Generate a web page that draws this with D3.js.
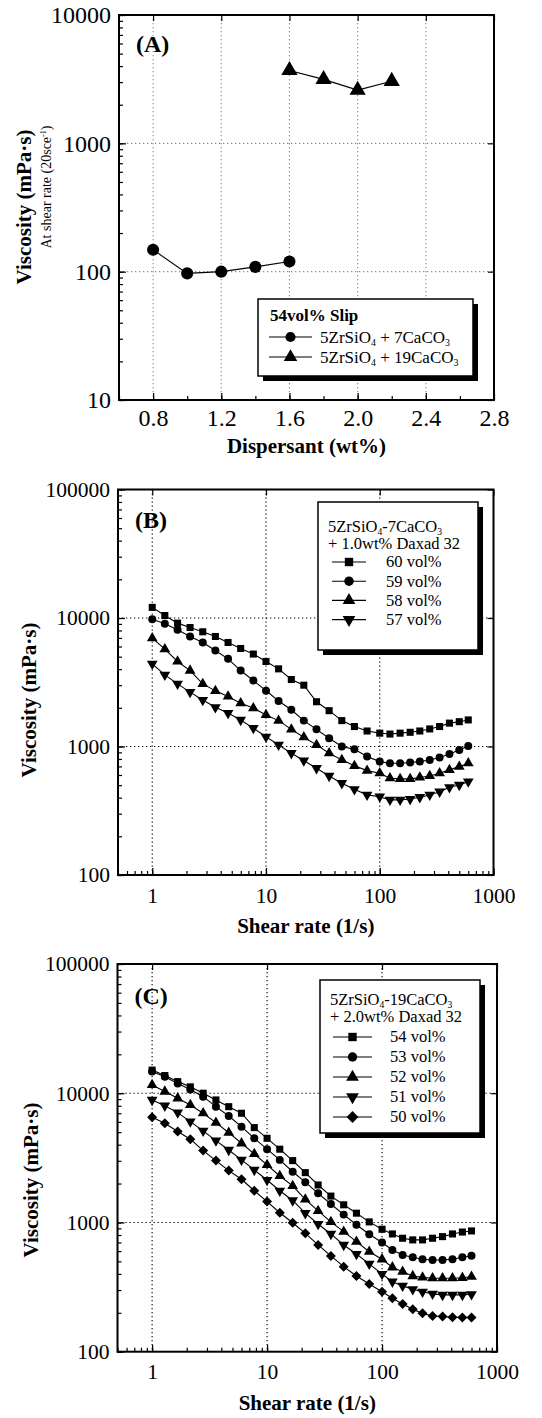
<!DOCTYPE html>
<html>
<head>
<meta charset="utf-8">
<script src="https://cdn.jsdelivr.net/npm/d3@7"></script>
<style>
  body { margin: 0; background: #fff; }
  svg { display: block; }
  text { font-family: "Liberation Serif", "Times New Roman", serif; fill: #000; }
</style>
</head>
<body>
<svg id="fig" width="542" height="1418"></svg>
<script>
// ---------------- data: panel A (viscosity at 20 1/s vs dispersant) ----------------
var dispersant7 = [0.8, 1.0, 1.2, 1.4, 1.6];
var viscosity7 = [148, 97, 100, 109, 120];
var dispersant19 = [1.6, 1.8, 2.0, 2.2];
var viscosity19 = [3700, 3150, 2600, 3050];
var ticksA_x = [0.8, 1.2, 1.6, 2.0, 2.4, 2.8];
var ticksA_y = [10, 100, 1000, 10000];

// ---------------- data: panels B and C (flow curves) ----------------
var shearRate = [1, 1.29, 1.67, 2.15, 2.78, 3.59, 4.64, 5.99, 7.74, 10,
                 12.9, 16.7, 21.5, 27.8, 35.9, 46.4, 59.9, 77.4, 100,
                 123, 151, 185, 225, 275, 336, 410, 500, 600];

// B: 5ZrSiO4-7CaCO3 + 1.0wt% Daxad 32
var visc60 = [12100, 10450, 9120, 8430, 7810, 7180, 6450, 5790, 5240, 4590,
              4020, 3320, 3000, 2230, 1900, 1590, 1430, 1320, 1270,
              1250, 1270, 1290, 1320, 1370, 1430, 1520, 1560, 1610];
var visc59 = [9790, 9010, 8090, 7180, 6450, 5580, 4810, 3900, 3260, 2720,
              2260, 1930, 1590, 1360, 1160, 1000, 950, 835, 763,
              741, 741, 750, 763, 785, 822, 875, 940, 1010];
var visc58 = [6970, 5720, 4590, 3900, 3070, 2710, 2450, 2170, 1990, 1760,
              1590, 1360, 1180, 1030, 887, 787, 707, 649, 620,
              566, 560, 560, 574, 590, 620, 658, 697, 741];
var visc57 = [4400, 3610, 3070, 2650, 2300, 2020, 1820, 1610, 1390, 1190,
              1030, 887, 777, 678, 590, 518, 465, 420, 407,
              384, 384, 390, 403, 420, 445, 482, 502, 533];

// C: 5ZrSiO4-19CaCO3 + 2.0wt% Daxad 32
var visc54 = [15100, 13700, 12300, 11200, 10000, 8870, 7870, 7000, 5420, 4480,
              3690, 3010, 2430, 1950, 1600, 1370, 1180, 1010, 886,
              815, 755, 733, 733, 755, 777, 815, 843, 860];
var visc53 = [14700, 13400, 11900, 10700, 9410, 7870, 6670, 5510, 4480, 3690,
              3050, 2470, 2050, 1680, 1390, 1150, 960, 810, 700,
              612, 560, 538, 519, 513, 513, 519, 538, 553];
var visc52 = [11600, 10300, 9140, 8110, 7000, 5920, 4950, 4100, 3390, 2790,
              2290, 1920, 1510, 1230, 1010, 849, 710, 594, 519,
              450, 416, 385, 376, 370, 370, 370, 373, 380];
var visc51 = [8870, 8010, 7080, 6030, 5110, 4300, 3640, 3050, 2550, 2130,
              1760, 1480, 1180, 973, 815, 670, 570, 478, 399,
              348, 323, 304, 291, 280, 275, 275, 275, 278];
var visc50 = [6510, 5860, 5050, 4410, 3600, 3010, 2520, 2160, 1760, 1450,
              1190, 995, 824, 670, 551, 455, 385, 334, 291,
              259, 234, 213, 198, 189, 187, 185, 184, 184];

var ticksShear = [1, 10, 100, 1000];
var ticksViscBC = [100, 1000, 10000, 100000];

var svg = d3.select("#fig");

// marker paths (inverted triangle / diamond are rotated symbols)
function marker(shape, size) {
  var t = { square: d3.symbolSquare, circle: d3.symbolCircle, triangle: d3.symbolTriangle,
            down: d3.symbolTriangle, diamond: d3.symbolSquare }[shape];
  return d3.symbol(t, size)();
}
function markerRot(shape) {
  if (shape == "down") return " rotate(180)";
  if (shape == "diamond") return " rotate(45)";
  return "";
}

// text with subscripts / superscripts: parts = [[str, null|"sub"|"sup"], ...]
function richText(t, parts, fs) {
  var cur = 0;
  parts.forEach(function(p) {
    var off = p[1] == "sub" ? fs * 0.2 : (p[1] == "sup" ? -fs * 0.38 : 0);
    var ts = t.append("tspan").text(p[0]).attr("dy", off - cur);
    if (p[1]) ts.attr("font-size", fs * 0.58);
    cur = off;
  });
  return t;
}

function drawPanel(p) {
  var g = svg.append("g");
  var x = p.x, y = p.y;
  var left = x.range()[0], right = x.range()[1];
  var bottom = y.range()[0], top = y.range()[1];

  // dotted grid
  g.append("g").selectAll("line").data(p.gridX).enter().append("line")
      .attr("x1", x).attr("x2", x).attr("y1", top).attr("y2", bottom)
      .attr("stroke", p.gridColor).attr("stroke-width", 1.1).attr("stroke-dasharray", "1.3,2.7");
  g.append("g").selectAll("line").data(p.gridY).enter().append("line")
      .attr("y1", y).attr("y2", y).attr("x1", left).attr("x2", right)
      .attr("stroke", p.gridColor).attr("stroke-width", 1.1).attr("stroke-dasharray", "1.3,2.7");

  // ticks (inward), labels left and bottom
  var ax = g.append("g").attr("class", "axes");
  ax.append("g").attr("transform", "translate(" + left + ",0)")
    .call(d3.axisLeft(y).tickValues(y.ticks()).tickSize(-4).tickFormat(""));
  ax.append("g").attr("transform", "translate(" + left + ",0)")
    .call(d3.axisLeft(y).tickValues(p.yTicks).tickSize(-7).tickPadding(8).tickFormat(d3.format("d")));
  ax.append("g").attr("transform", "translate(" + right + ",0)")
    .call(d3.axisRight(y).tickValues(p.yTicks).tickSize(-6).tickFormat(""));
  ax.append("g").attr("transform", "translate(0," + bottom + ")")
    .call(d3.axisBottom(x).tickValues(p.xMinor).tickSize(-4).tickFormat(""));
  ax.append("g").attr("transform", "translate(0," + bottom + ")")
    .call(d3.axisBottom(x).tickValues(p.xTicks).tickSize(-7).tickPadding(p.xPad).tickFormat(p.xFormat));
  ax.append("g").attr("transform", "translate(0," + top + ")")
    .call(d3.axisTop(x).tickValues(p.xTicks).tickSize(-6).tickFormat(""));
  ax.selectAll(".domain").remove();
  ax.selectAll("line").attr("stroke", "#000").attr("stroke-width", 1.2);
  ax.selectAll("text").attr("font-family", "Liberation Serif, serif").attr("font-size", p.tickFont).attr("fill", "#000");

  // series
  var line = d3.line().x(function(d) { return x(d[0]); }).y(function(d) { return y(d[1]); });
  p.series.forEach(function(s) {
    var pts = d3.zip(s.x, s.v);
    g.append("path").datum(pts).attr("d", line)
        .attr("fill", "none").attr("stroke", "#000").attr("stroke-width", 1.1);
    g.append("g").selectAll("path").data(pts).enter().append("path")
        .attr("d", marker(s.shape, p.markSize))
        .attr("transform", function(d) { return "translate(" + x(d[0]) + "," + y(d[1]) + ")" + markerRot(s.shape); })
        .attr("fill", "#000");
  });

  // frame
  g.append("rect").attr("x", left).attr("y", top).attr("width", right - left).attr("height", bottom - top)
      .attr("fill", "none").attr("stroke", "#000").attr("stroke-width", 2);

  // panel letter
  g.append("text").attr("x", left + 17).attr("y", top + p.letterDy)
      .attr("font-weight", "bold").attr("font-size", 24).text(p.letter);

  // axis titles
  g.append("text").attr("x", (left + right) / 2).attr("y", bottom + p.xTitleDy)
      .attr("text-anchor", "middle").attr("font-weight", "bold").attr("font-size", 21).text(p.xTitle);
  g.append("text").attr("transform", "translate(" + p.yTitleX + "," + p.yTitleY + ") rotate(-90)")
      .attr("text-anchor", "middle").attr("font-weight", "bold").attr("font-size", 21).text("Viscosity (mPa\u00b7s)");

  // legend
  var L = p.legend;
  var lg = g.append("g");
  lg.append("rect").attr("x", L.x + 5).attr("y", L.y + 5).attr("width", L.w).attr("height", L.h).attr("fill", "#000");
  lg.append("rect").attr("x", L.x).attr("y", L.y).attr("width", L.w).attr("height", L.h)
      .attr("fill", "#fff").attr("stroke", "#000").attr("stroke-width", 1.5);
  L.head.forEach(function(h) {
    var t = lg.append("text").attr("x", L.x + L.textX).attr("y", L.y + h.dy)
        .attr("font-size", L.fs).attr("font-weight", h.bold ? "bold" : "normal");
    richText(t, h.parts, L.fs);
  });
  p.series.forEach(function(s, i) {
    var cy = L.y + L.row0 + i * L.rowH;
    lg.append("line").attr("x1", L.x + L.lineX0).attr("x2", L.x + L.lineX1).attr("y1", cy).attr("y2", cy)
        .attr("stroke", "#000").attr("stroke-width", 1.1);
    lg.append("path").attr("d", marker(s.shape, L.markSize))
        .attr("transform", "translate(" + (L.x + (L.lineX0 + L.lineX1) / 2) + "," + cy + ")" + markerRot(s.shape))
        .attr("fill", "#000");
    var t = lg.append("text").attr("x", L.x + L.labelX).attr("y", cy + L.fs * 0.33).attr("font-size", L.fs);
    richText(t, s.label, L.fs);
  });
  return g;
}

// ---------------- panel A ----------------
var xA = d3.scaleLinear().domain([0.6, 2.8]).range([119, 494]);
var yA = d3.scaleLog().domain([10, 10000]).range([400, 15]);
var gA = drawPanel({
  x: xA, y: yA, letter: "(A)", letterDy: 37,
  gridX: [0.8, 1.2, 1.6, 2.0, 2.4], gridY: [100, 1000], gridColor: "#8a8a8a",
  yTicks: ticksA_y, xTicks: ticksA_x, xMinor: d3.range(6, 28, 2).map(function(d) { return d / 10; }),
  xFormat: d3.format(".1f"), xPad: 9, tickFont: 24, markSize: 115,
  xTitle: "Dispersant (wt%)", xTitleDy: 53, yTitleX: 31, yTitleY: 207,
  series: [
    { x: dispersant7, v: viscosity7, shape: "circle",
      label: [["5ZrSiO", null], ["4", "sub"], [" + 7CaCO", null], ["3", "sub"]] },
    { x: dispersant19, v: viscosity19, shape: "triangle",
      label: [["5ZrSiO", null], ["4", "sub"], [" + 19CaCO", null], ["3", "sub"]] }
  ],
  legend: { x: 258, y: 299, w: 215, h: 77, fs: 17, textX: 12, head: [
      { dy: 22, bold: true, parts: [["54vol% Slip", null]] } ],
    row0: 38, rowH: 20, lineX0: 11, lineX1: 54, labelX: 62, markSize: 80 }
});
// second line of A's y title
gA.append("text").attr("transform", "translate(51,187) rotate(-90)")
    .attr("text-anchor", "middle").attr("font-size", 14)
    .attr("font-family", "Liberation Sans Narrow, DejaVu Sans Condensed, sans-serif")
    .call(function(t) { richText(t, [["At shear rate (20sce", null], ["-1", "sup"], [")", null]], 14); });

// ---------------- panel B ----------------
var xB = d3.scaleLog().domain([0.5, 1000]).range([118, 493.5]);
var yB = d3.scaleLog().domain([100, 100000]).range([875, 489.5]);
drawPanel({
  x: xB, y: yB, letter: "(B)", letterDy: 38,
  gridX: [1, 10, 100], gridY: [1000, 10000], gridColor: "#000",
  yTicks: ticksViscBC, xTicks: ticksShear, xMinor: xB.ticks(),
  xFormat: d3.format("d"), xPad: 13, tickFont: 21.5, markSize: 50,
  xTitle: "Shear rate (1/s)", xTitleDy: 58, yTitleX: 36, yTitleY: 700,
  series: [
    { x: shearRate, v: visc60, shape: "square", label: [["60 vol%", null]] },
    { x: shearRate, v: visc59, shape: "circle", label: [["59 vol%", null]] },
    { x: shearRate, v: visc58, shape: "triangle", label: [["58 vol%", null]] },
    { x: shearRate, v: visc57, shape: "down", label: [["57 vol%", null]] }
  ],
  legend: { x: 318, y: 502, w: 160, h: 148, fs: 16.5, textX: 10, head: [
      { dy: 30, parts: [["5ZrSiO", null], ["4", "sub"], ["-7CaCO", null], ["3", "sub"]] },
      { dy: 47, parts: [["+ 1.0wt% Daxad 32", null]] } ],
    row0: 60, rowH: 19.2, lineX0: 14, lineX1: 48, labelX: 68, markSize: 70 }
});

// ---------------- panel C ----------------
var xC = d3.scaleLog().domain([0.5, 1000]).range([117.5, 497]);
var yC = d3.scaleLog().domain([100, 100000]).range([1351.7, 964]);
drawPanel({
  x: xC, y: yC, letter: "(C)", letterDy: 40,
  gridX: [1, 10, 100], gridY: [1000, 10000], gridColor: "#000",
  yTicks: ticksViscBC, xTicks: ticksShear, xMinor: xC.ticks(),
  xFormat: d3.format("d"), xPad: 12, tickFont: 21.5, markSize: 50,
  xTitle: "Shear rate (1/s)", xTitleDy: 58, yTitleX: 38, yTitleY: 1180,
  series: [
    { x: shearRate, v: visc54, shape: "square", label: [["54 vol%", null]] },
    { x: shearRate, v: visc53, shape: "circle", label: [["53 vol%", null]] },
    { x: shearRate, v: visc52, shape: "triangle", label: [["52 vol%", null]] },
    { x: shearRate, v: visc51, shape: "down", label: [["51 vol%", null]] },
    { x: shearRate, v: visc50, shape: "diamond", label: [["50 vol%", null]] }
  ],
  legend: { x: 320, y: 980, w: 160, h: 153, fs: 16.5, textX: 10, head: [
      { dy: 25, parts: [["5ZrSiO", null], ["4", "sub"], ["-19CaCO", null], ["3", "sub"]] },
      { dy: 42, parts: [["+ 2.0wt% Daxad 32", null]] } ],
    row0: 57, rowH: 20, lineX0: 13, lineX1: 52, labelX: 70, markSize: 70 }
});
</script>
</body>
</html>
